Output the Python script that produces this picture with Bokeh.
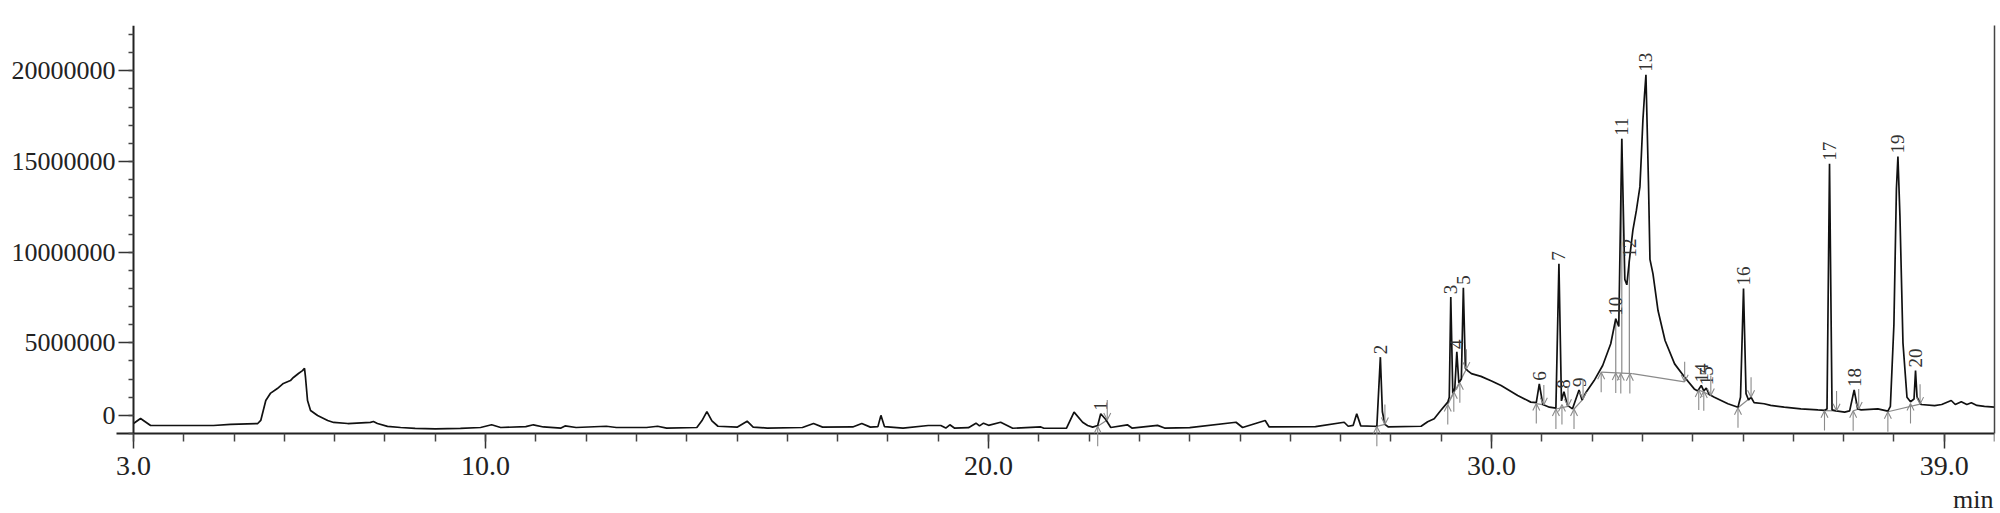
import numpy as np
from bokeh.plotting import figure
from bokeh.models import (Range1d, FixedTicker, LinearAxis, ColumnDataSource,
                          Arrow, OpenHead)
from bokeh.core.properties import value
from bokeh.embed import file_html
from bokeh.resources import INLINE

UNIT = 1_000_000  # intensities below are given in millions of counts

# ---- chromatogram trace (retention time in min, intensity in millions) ----
time_min = [
    3.00, 3.14, 3.34, 4.59, 4.93, 5.47, 5.53, 5.63, 5.72, 5.86, 5.98, 6.12, 6.18, 6.28, 6.36, 6.40,
    6.42, 6.46, 6.52, 6.66, 6.86, 6.98, 7.26, 7.71, 7.77, 7.85, 8.05, 8.31, 8.60, 9.00, 9.50, 9.90,
    10.12, 10.30, 10.80, 10.95, 11.15, 11.50, 11.58, 11.80, 12.40, 12.60, 13.20, 13.42, 13.60, 14.20,
    14.30, 14.40, 14.50, 14.62, 15.00, 15.20, 15.32, 15.60, 16.30, 16.52, 16.70, 17.30, 17.48, 17.65,
    17.80, 17.86, 17.93, 18.30, 18.80, 19.05, 19.15, 19.23, 19.32, 19.60, 19.75, 19.82, 19.90, 20.00,
    20.24, 20.48, 21.04, 21.10, 21.55, 21.70, 21.87, 21.97, 22.07, 22.17, 22.23, 22.33, 22.43, 22.76,
    22.85, 23.36, 23.50, 24.00, 24.92, 25.05, 25.50, 25.58, 26.50, 27.07, 27.15, 27.25, 27.32, 27.40,
    27.65, 27.72, 27.79, 27.83, 27.88, 27.95, 28.60, 28.73, 28.86, 28.99, 29.13, 29.16, 29.19, 29.23,
    29.27, 29.31, 29.35, 29.40, 29.44, 29.48, 29.53, 29.60, 29.79, 30.00, 30.19, 30.52, 30.78, 30.89,
    30.95, 31.02, 31.15, 31.28, 31.34, 31.39, 31.44, 31.51, 31.61, 31.74, 31.80, 31.88, 32.04, 32.21,
    32.37, 32.47, 32.53, 32.59, 32.65, 32.69, 32.74, 32.81, 32.88, 32.95, 32.98, 33.01, 33.04, 33.07,
    33.12, 33.15, 33.21, 33.31, 33.45, 33.64, 33.84, 34.03, 34.10, 34.17, 34.22, 34.27, 34.33, 34.43,
    34.70, 34.90, 34.95, 35.01, 35.06, 35.11, 35.16, 35.22, 35.42, 35.55, 35.82, 36.15, 36.49, 36.62,
    36.67, 36.72, 36.77, 36.85, 37.02, 37.12, 37.21, 37.28, 37.35, 37.68, 37.88, 37.93, 38.00, 38.05,
    38.08, 38.12, 38.18, 38.26, 38.33, 38.40, 38.43, 38.46, 38.54, 38.81, 38.95, 39.14, 39.22, 39.34,
    39.45, 39.54, 39.65, 39.80, 40.00,
]
intensity_m = [
    0.55, 0.83, 0.44, 0.44, 0.50, 0.55, 0.72, 1.82, 2.21, 2.48, 2.76, 2.92, 3.09, 3.31, 3.47, 3.59,
    3.09, 1.82, 1.27, 0.99, 0.72, 0.61, 0.55, 0.61, 0.66, 0.55, 0.39, 0.33, 0.28, 0.26, 0.28, 0.33,
    0.48, 0.33, 0.38, 0.48, 0.36, 0.30, 0.42, 0.33, 0.40, 0.33, 0.33, 0.40, 0.30, 0.33,
    0.70, 1.21, 0.70, 0.40, 0.35, 0.68, 0.35, 0.30, 0.33, 0.55, 0.35, 0.36, 0.55, 0.35,
    0.38, 1.00, 0.38, 0.30, 0.44, 0.44, 0.30, 0.48, 0.30, 0.32, 0.57, 0.42, 0.57, 0.45,
    0.62, 0.29, 0.36, 0.29, 0.30, 1.18, 0.62, 0.44, 0.35, 0.44, 1.09, 0.77, 0.33, 0.48,
    0.30, 0.45, 0.30, 0.32, 0.62, 0.33, 0.72, 0.36, 0.38, 0.62, 0.40, 0.45, 1.09, 0.42,
    0.40, 0.39, 4.21, 1.20, 0.50, 0.36, 0.40, 0.65, 0.81, 1.27, 1.73, 2.00, 7.52, 2.20,
    2.50, 4.50, 2.80, 3.00, 8.04, 3.60, 3.45, 3.30, 3.15, 2.90, 2.65, 2.10, 1.73, 1.70,
    2.74, 1.60, 1.45, 1.40, 9.36, 1.80, 2.30, 1.55, 1.36, 2.40, 1.85, 2.28, 2.92, 3.75,
    4.95, 6.33, 5.90, 16.25, 8.50, 8.20, 9.54, 11.20, 12.30, 13.60, 15.40, 17.30, 18.60, 19.78,
    13.90, 9.60, 8.80, 6.78, 5.13, 3.84, 3.10, 2.46, 2.35, 2.65, 2.35, 2.50, 2.15, 2.00,
    1.64, 1.45, 2.00, 8.00, 2.20, 1.85, 2.00, 1.70, 1.64, 1.55, 1.45, 1.36, 1.30, 1.28,
    1.35, 14.87, 1.30, 1.25, 1.18, 1.25, 2.40, 1.35, 1.30, 1.36, 1.23, 1.50, 6.00, 13.50,
    15.28, 12.00, 5.00, 2.00, 1.75, 1.90, 3.47, 2.00, 1.60, 1.54, 1.60, 1.82, 1.60, 1.75,
    1.60, 1.70, 1.55, 1.50, 1.45,
]

# ---- integrated peaks (apex) ----
peak_ids = [str(i) for i in range(1, 21)]
peak_time = [22.23, 27.79, 29.19, 29.31, 29.44, 30.95, 31.34, 31.44, 31.74, 32.47,
             32.59, 32.74, 33.07, 34.17, 34.27, 35.01, 36.72, 37.21, 38.08, 38.43]
peak_height_m = [1.09, 4.21, 7.52, 4.50, 8.04, 2.74, 9.36, 2.30, 2.40, 6.33,
                 16.25, 9.54, 19.78, 2.65, 2.50, 8.00, 14.87, 2.40, 15.28, 3.47]

# peak-start markers (up arrows) and peak-end markers (down arrows)
start_time = [22.17, 27.72, 29.13, 29.25, 29.37, 30.89, 31.28, 31.40, 31.64, 32.18,
              32.47, 32.57, 32.75, 34.12, 34.22, 34.90, 36.62, 37.19, 37.88, 38.33]
start_level_m = [0.40, 0.39, 1.60, 2.30, 2.80, 1.65, 1.35, 1.60, 1.35, 3.38,
                 3.33, 3.31, 3.30, 2.40, 2.35, 1.42, 1.26, 1.25, 1.20, 1.65]
end_time = [22.36, 27.88, 29.50, 31.04, 31.52, 31.82, 33.84, 34.36, 35.16, 36.86, 37.30, 38.52]
end_level_m = [0.75, 0.50, 3.55, 1.58, 1.50, 1.90, 2.85, 2.10, 2.00, 1.25, 1.35, 1.62]

# integration baselines
base_t0 = [22.17, 27.72, 29.13, 30.89, 31.28, 31.64, 32.18, 32.80, 34.12, 34.90, 36.62, 37.19, 37.88]
base_i0 = [0.40, 0.39, 1.60, 1.65, 1.35, 1.35, 3.38, 3.30, 2.40, 1.42, 1.26, 1.25, 1.20]
base_t1 = [22.36, 27.88, 29.50, 31.04, 31.52, 31.82, 32.80, 33.84, 34.36, 35.16, 36.86, 37.30, 38.52]
base_i1 = [0.75, 0.50, 3.55, 1.58, 1.50, 1.90, 3.30, 2.85, 2.10, 2.00, 1.25, 1.35, 1.62]

# ---- axes ----
x_start, x_end = 3.0, 40.0
y_top_m = 22.5
x_ticks = [3, 10, 20, 30, 39]
x_tick_labels = ["3.0", "10.0", "20.0", "30.0", "39.0"]
x_minor = list(range(3, 41))
y_ticks_m = [1, 5, 10, 15, 20]
y_tick_labels = ["0", "5000000", "10000000", "15000000", "20000000"]
y_minor_m = list(range(0, 23))
x_unit_label = "min"

# ---- layout (pixels) ----
W, H = 2000, 513
TOP, RIGHT = 25, 6
AXIS_X = 133                      # screen column of the intensity axis
AXIS_Y = 433                      # screen row of the time axis
px_per_min = (W - RIGHT - AXIS_X) / (x_end - x_start)
px_per_unit = (AXIS_Y - TOP) / (y_top_m * UNIT)
x_view_start = x_start - AXIS_X / px_per_min      # frame reaches the canvas left edge
y_view_start = -(H - AXIS_Y) / px_per_unit        # frame reaches the canvas bottom
unit_label_y = -(499 - AXIS_Y) / px_per_unit

FONT = "Liberation Serif"
GRAY = "#8a8a8a"
STICK = 1.1 * UNIT

p = figure(width=W, height=H, output_backend="svg", toolbar_location=None,
           x_range=Range1d(x_view_start, x_end), y_range=Range1d(y_view_start, y_top_m * UNIT),
           min_border_left=0, min_border_right=RIGHT, min_border_top=TOP, min_border_bottom=0)
p.outline_line_color = None
p.grid.visible = False
p.background_fill_color = "white"
p.border_fill_color = "white"

xa = p.xaxis[0]
xa.fixed_location = 0
xa.bounds = (x_start - 17 / px_per_min, x_end)
xa.ticker = FixedTicker(ticks=x_ticks, minor_ticks=x_minor)
xa.major_label_overrides = {t: l for t, l in zip(x_ticks, x_tick_labels)}
xa.major_tick_out = 15
xa.major_tick_in = 0
xa.minor_tick_out = 8
xa.minor_tick_in = 0
xa.major_label_standoff = 8
xa.major_label_text_font = FONT
xa.major_label_text_font_size = "28px"
xa.major_label_text_color = "#222222"
xa.axis_line_width = 2
xa.axis_line_color = "#222222"
xa.major_tick_line_width = 1.5
xa.minor_tick_line_width = 1.5
xa.major_tick_line_color = "#333333"
xa.minor_tick_line_color = "#444444"

ya = p.yaxis[0]
yt = [v * UNIT for v in y_ticks_m]
ya.fixed_location = x_start
ya.bounds = (0, y_top_m * UNIT)
ya.ticker = FixedTicker(ticks=yt, minor_ticks=[v * UNIT for v in y_minor_m])
ya.major_label_overrides = {t: l for t, l in zip(yt, y_tick_labels)}
ya.major_tick_out = 15
ya.major_tick_in = 0
ya.minor_tick_out = 5
ya.minor_tick_in = 0
ya.major_label_standoff = 3
ya.major_label_text_font = FONT
ya.major_label_text_font_size = "26px"
ya.major_label_text_color = "#222222"
ya.axis_line_width = 2
ya.axis_line_color = "#222222"
ya.major_tick_line_width = 1.5
ya.minor_tick_line_width = 1.5
ya.major_tick_line_color = "#333333"
ya.minor_tick_line_color = "#444444"

ra = LinearAxis(ticker=FixedTicker(ticks=[], minor_ticks=[]), bounds=(0, y_top_m * UNIT),
                major_tick_out=0, major_tick_in=0, minor_tick_out=0, minor_tick_in=0,
                major_label_standoff=0, major_label_text_font_size="0px",
                axis_line_color="#444444", axis_line_width=1.5)
p.add_layout(ra, "right")

# integration baselines
p.segment(x0=base_t0, y0=[v * UNIT for v in base_i0], x1=base_t1, y1=[v * UNIT for v in base_i1],
          line_color=GRAY, line_width=1.2)

# drop lines for fused peaks 10-12
fused = [9, 10, 11]
p.segment(x0=[peak_time[i] for i in fused], y0=[start_level_m[i + 1] * UNIT for i in fused],
          x1=[peak_time[i] for i in fused], y1=[peak_height_m[i] * UNIT for i in fused],
          line_color=GRAY, line_width=1.2)

# the trace
p.line(time_min, [v * UNIT for v in intensity_m], line_color="#111111", line_width=1.7)

# start / end markers
up_src = ColumnDataSource(dict(x=start_time,
                               y0=[v * UNIT - STICK for v in start_level_m],
                               y1=[v * UNIT for v in start_level_m]))
dn_src = ColumnDataSource(dict(x=end_time,
                               y0=[v * UNIT + STICK for v in end_level_m],
                               y1=[v * UNIT for v in end_level_m]))
for src in (up_src, dn_src):
    p.add_layout(Arrow(end=OpenHead(size=7, line_color=GRAY, line_width=1.1),
                       x_start="x", y_start="y0", x_end="x", y_end="y1", source=src,
                       line_color=GRAY, line_width=1.1))

# peak numbers, rotated
p.text(x=peak_time, y=[v * UNIT for v in peak_height_m], text=peak_ids,
       angle=np.pi / 2, text_align="left", text_baseline="middle", y_offset=-3,
       text_font=value(FONT), text_font_size="19px", text_color="#333333")

# time unit, right aligned under the axis
p.text(x=[x_end], y=[unit_label_y], text=[x_unit_label], text_align="right",
       text_baseline="middle", x_offset=-1,
       text_font=value(FONT), text_font_size="26px", text_color="#222222")

open("out.html", "w").write(file_html(p, INLINE))
